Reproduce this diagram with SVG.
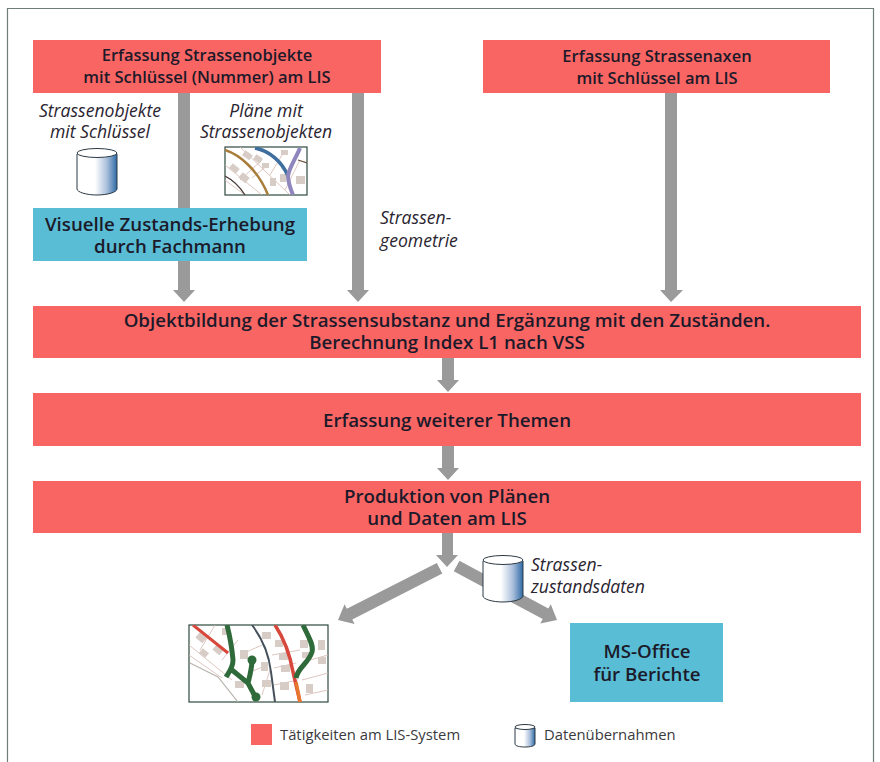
<svg xmlns="http://www.w3.org/2000/svg" width="880" height="762" viewBox="0 0 880 762">
<style>
text{font-family:"Open Sans","Noto Sans","Liberation Sans",sans-serif;text-anchor:middle;fill:#2a2430}
.b{font-size:16.5px;font-weight:600;fill:#1c1a2a}
.bb{font-size:18.7px;font-weight:600;fill:#1c1a2a}
.i{font-size:17.6px;font-style:italic}
.l{font-size:14.800px;text-anchor:start;fill:#3a3a3e}
.s{text-anchor:start}
.red{fill:#f96563}
.blue{fill:#58bdd5}
.arr{fill:#9b9a9a}
.cyl{fill:url(#g);stroke:#2c3a44;stroke-width:1}
.top{fill:#fff;stroke:#2c3a44;stroke-width:1}
.mapb{fill:#fff;stroke:#2e4a3c;stroke-width:1.200}
.line{fill:none;stroke:#d6b8b0;stroke-width:.8}
.house{fill:#d8ccc6}
.gr{fill:none;stroke:#2f6b3a;stroke-width:5}
</style>
<defs>
<linearGradient id="g" x1="0" x2="1" y1="0" y2="0"><stop offset="0" stop-color="#fff"/><stop offset=".45" stop-color="#fff"/><stop offset=".75" stop-color="#a9bedb"/><stop offset="1" stop-color="#2f6aa5"/></linearGradient>
<clipPath id="m1"><rect x="225" y="147" width="82" height="48"/></clipPath>
<clipPath id="m2"><rect x="189" y="625" width="139" height="77"/></clipPath>
<g id="c"><path class="cyl" d="M0 6V41C0 44 9 47 20 47S40 44 40 41V6Z"/><ellipse class="top" cx="20" cy="5" rx="20" ry="4.500"/></g>
</defs>
<rect width="880" height="762" fill="#fff"/>
<path d="M7.500 762V8.500H873.500V762" fill="none" stroke="#6f7d78" stroke-width="1.200"/>

<g id="connectors">
<path class="arr" d="M178 93H190V290H195L184 302L173 290H178Z"/>
<path class="arr" d="M352 93H364V290H369L358 302L347 290H352Z"/>
<path class="arr" d="M665 93H677V290H683L671 302L660 290H665Z"/>
<path class="arr" d="M442 358H454V380H459L448 392L437 380H442Z"/>
<path class="arr" d="M442 446H454V468H459L448 480L437 468H442Z"/>
<path class="arr" d="M442 533H453V555H458L447 567L436 555H442Z"/>
<path class="arr" transform="translate(338 620) rotate(153)" d="M0 0L-13 -11V-6H-114V6H-13V11Z"/>
<path class="arr" transform="translate(557 620) rotate(28.300)" d="M0 0L-13 -11V-6H-114V6H-13V11Z"/>
</g>

<g id="n1"><rect class="red" x="33" y="40" width="348" height="53"/><text class="b" x="207" y="61">Erfassung Strassenobjekte</text><text class="b" x="207" y="83">mit Schlüssel (Nummer) am LIS</text></g>
<g id="n2"><rect class="red" x="483" y="40" width="347" height="53"/><text class="b" x="657" y="62">Erfassung Strassenaxen</text><text class="b" x="657" y="84">mit Schlüssel am LIS</text></g>
<g id="n3"><rect class="blue" x="33" y="208" width="274" height="53"/><text class="bb" x="170" y="231">Visuelle Zustands-Erhebung</text><text class="bb" x="170" y="253">durch Fachmann</text></g>
<g id="n4"><rect class="red" x="33" y="306" width="828" height="52"/><text class="bb" x="447" y="327">Objektbildung der Strassensubstanz und Ergänzung mit den Zuständen.</text><text class="bb" x="447" y="349">Berechnung Index L1 nach VSS</text></g>
<g id="n5"><rect class="red" x="33" y="393" width="828" height="53"/><text class="bb" x="447" y="427">Erfassung weiterer Themen</text></g>
<g id="n6"><rect class="red" x="33" y="481" width="828" height="52"/><text class="bb" x="447" y="503">Produktion von Plänen</text><text class="bb" x="447" y="525">und Daten am LIS</text></g>
<g id="n7"><rect class="blue" x="570" y="623" width="153" height="79"/><text class="bb" x="647" y="658">MS-Office</text><text class="bb" x="647" y="681">für Berichte</text></g>

<g id="label1"><text class="i" x="100" y="117">Strassenobjekte</text><text class="i" x="100" y="138">mit Schlüssel</text></g>
<g id="label2"><text class="i" x="266" y="117">Pläne mit</text><text class="i" x="266" y="138">Strassenobjekten</text></g>
<g id="label3"><text class="i s" x="380" y="224">Strassen-</text><text class="i s" x="380" y="247">geometrie</text></g>
<g id="label4"><text class="i s" x="531" y="571">Strassen-</text><text class="i s" x="531" y="593">zustandsdaten</text></g>

<use id="db1" href="#c" x="77" y="148"/>
<use id="db2" href="#c" x="483" y="555"/>

<g id="map1"><rect class="mapb" x="225" y="147" width="82" height="48"/>
<g clip-path="url(#m1)">
<path class="line" d="M225 165L262 195M240 147L290 195M262 160L240 180M285 150L270 175M300 160L285 190M225 180L245 195M268 165L252 178"/>
<g class="house"><rect x="243" y="152" width="9" height="6" transform="rotate(35 247 155)"/><rect x="254" y="156" width="8" height="6" transform="rotate(35 258 159)"/><rect x="230" y="165" width="9" height="6" transform="rotate(40 234 168)"/><rect x="240" y="174" width="9" height="7" transform="rotate(40 244 177)"/><rect x="270" y="178" width="6" height="8"/><rect x="280" y="174" width="6" height="8"/><rect x="296" y="176" width="9" height="8"/><rect x="281" y="150" width="7" height="5"/><rect x="262" y="163" width="7" height="5"/></g>
<path d="M225 150C240 155 258 170 268 195" fill="none" stroke="#a87d3a" stroke-width="2.500"/>
<path d="M225 176C233 180 240 187 245 195" fill="none" stroke="#4a3a3a" stroke-width="1.300"/>
<path d="M255 148C270 151 282 162 288 176" fill="none" stroke="#3f6f9f" stroke-width="3.500"/>
<path d="M300 148C296 158 289 168 288 176C288 182 291 190 293 195" fill="none" stroke="#8e86bd" stroke-width="4"/>
<path d="M298 160L307 163" fill="none" stroke="#6a4f3a" stroke-width="1.300"/>
</g></g>

<g id="map2"><rect class="mapb" x="189" y="625" width="139" height="77"/>
<g clip-path="url(#m2)">
<path class="line" d="M189 645L232 680M189 655L222 678M240 655L262 645M272 655L300 650M274 668L296 663M274 685L298 680M310 660L328 655M302 680L328 673M305 695L328 690M215 625L200 650M238 640L222 660M250 672L268 665M262 695L270 670"/>
<g class="house"><rect x="197" y="634" width="9" height="7" transform="rotate(40 201 637)"/><rect x="214" y="646" width="9" height="7" transform="rotate(40 218 649)"/><rect x="200" y="650" width="8" height="6" transform="rotate(40 204 653)"/><rect x="222" y="628" width="8" height="7"/><rect x="240" y="650" width="8" height="9"/><rect x="262" y="632" width="9" height="7"/><rect x="275" y="640" width="8" height="7"/><rect x="279" y="653" width="9" height="7"/><rect x="281" y="665" width="9" height="7"/><rect x="261" y="662" width="7" height="9"/><rect x="262" y="680" width="9" height="7"/><rect x="300" y="640" width="8" height="8"/><rect x="302" y="652" width="8" height="6"/><rect x="318" y="640" width="7" height="10"/><rect x="318" y="657" width="8" height="7"/><rect x="306" y="684" width="7" height="9"/><rect x="235" y="681" width="9" height="7"/><rect x="280" y="682" width="9" height="8"/></g>
<path d="M193 625L228 653" fill="none" stroke="#d8473c" stroke-width="3"/>
<path class="gr" d="M227 625C230 637 232 648 233 660C233 668 229 672 226 677M232 670L248 683L257 700M248 683C250 675 252 668 252 660"/>
<circle cx="252" cy="660" r="4.500" fill="#2f6b3a"/><circle cx="256" cy="697" r="4.500" fill="#2f6b3a"/>
<path d="M190 663L218 677L238 702" fill="none" stroke="#b9b3ad" stroke-width="1.200"/>
<path d="M252 625C262 638 269 655 271 672L275 702" fill="none" stroke="#45505a" stroke-width="2"/>
<path d="M275 625C285 640 290 655 293 672L300 702" fill="none" stroke="#d8473c" stroke-width="3.500"/>
<path d="M296 682L300 702" fill="none" stroke="#e8772e" stroke-width="3.500"/>
<path class="gr" d="M303 625C308 636 314 645 312 652C308 664 298 667 296 678"/>
</g></g>

<g id="legend1"><rect class="red" x="251" y="724" width="21" height="21"/><text class="l" x="280" y="740">Tätigkeiten am LIS-System</text></g>
<g id="legend2"><path class="cyl" d="M515 728V744C515 746 520 747 525 747S535 746 535 744V728Z"/><ellipse class="top" cx="525" cy="727" rx="10" ry="2.500"/><text class="l" x="544" y="740">Datenübernahmen</text></g>
</svg>
